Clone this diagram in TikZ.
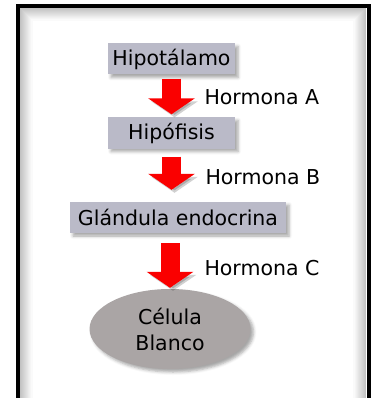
\documentclass[tikz,border=0pt]{standalone}
\usepackage{fontspec}
\setmainfont{DejaVu Sans}
\usepackage{tikz}
\usetikzlibrary{shapes, arrows.meta, positioning, calc, shadows.blur}
\definecolor{boxgray}{RGB}{186, 186, 200}
\definecolor{cellgray}{RGB}{170, 165, 165}
\definecolor{arrowred}{RGB}{250, 0, 0}
\tikzset{
  caja/.style={fill=boxgray, minimum height=31pt, inner sep=0pt, font=\fontsize{20.5}{24}\selectfont,
    blur shadow={shadow xshift=3pt, shadow yshift=-3pt, shadow opacity=35, shadow blur radius=3pt}},
  flecha/.style={line width=19pt, arrowred, -{Triangle[length=16pt, width=46pt]},
    preaction={draw=black, opacity=.18, transform canvas={shift={(3pt,-3pt)}}}},
  hormona/.style={anchor=west, font=\fontsize{20.5}{24}\selectfont}
}

\begin{document}
\begin{tikzpicture}[x=1pt, y=-1pt]
    \useasboundingbox (0,0) rectangle (377,398);
    \clip (0,0) rectangle (377,398);

    % --- MARCO ---
    \foreach \i in {1,...,12} {
        \pgfmathsetmacro\tono{max(0,26-2*\i)}
        \draw[black!\tono, line width=1.1pt] (20+\i, 8+\i) rectangle (366-\i, 430);
    }
    \draw[black, line width=4.5pt] (18, 6) rectangle (369, 430);

    % --- CAJAS ---
    \node[caja, minimum width=127pt] (hipo) at (171.5, 59) {Hipotálamo};
    \node[caja, minimum width=127pt] (hipof) at (171.5, 133) {Hipófisis};
    \node[caja, minimum width=216pt] (glandula) at (178, 217.5) {Glándula endocrina};
    \node[ellipse, fill=cellgray, minimum width=161pt, minimum height=80pt, align=center,
        font=\fontsize{20.5}{26}\selectfont,
        blur shadow={shadow xshift=3pt, shadow yshift=-3pt, shadow opacity=35, shadow blur radius=3pt}]
        (celula) at (170, 329) {Célula\\Blanco};

    % --- FLECHAS ---
    \draw[flecha, shorten <=4pt, shorten >=3pt] (hipo.south) -- (hipof.north);
    \draw[flecha, shorten <=8pt, shorten >=12pt] (hipof.south) -- (hipof.south |- glandula.north);
    \draw[flecha, shorten <=10pt, shorten >=1pt] (celula.north |- glandula.south) -- (celula.north);

    % --- ETIQUETAS ---
    \node[hormona] (ha) at (201, 97) {Hormona A};
    \node[hormona] (hb) at (202, 177) {Hormona B};
    \node[hormona] (hc) at (201, 268) {Hormona C};
\end{tikzpicture}
\end{document}
